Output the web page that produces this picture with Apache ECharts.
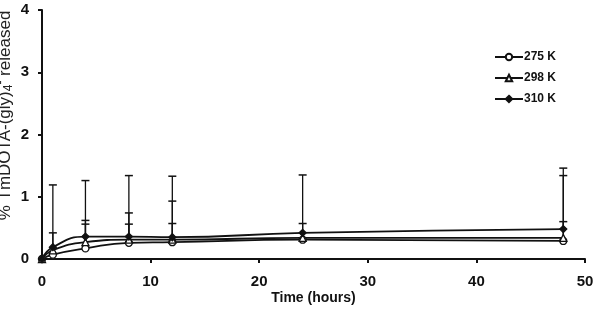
<!DOCTYPE html>
<html>
<head>
<meta charset="utf-8">
<script src="https://cdn.jsdelivr.net/npm/echarts@6/dist/echarts.min.js"></script>
<style>
  html, body { margin: 0; padding: 0; background: #fff; }
  #chart { width: 595px; height: 311px; }
</style>
</head>
<body>
<div id="chart"></div>
<script>
// 时间点 (hours)
var times = [0, 1, 4, 8, 12, 24, 48];
var seriesNames = ['275 K', '298 K', '310 K'];
// % released
var val275 = [0, 0.07, 0.17, 0.26, 0.27, 0.31, 0.29];
var val298 = [0, 0.14, 0.27, 0.31, 0.31, 0.34, 0.34];
var val310 = [0, 0.19, 0.36, 0.36, 0.35, 0.42, 0.48];
// 误差线上端 (absolute values, null = no bar)
var err275 = [null, null, 0.56, 0.56, 0.57, null, 0.6];
var err298 = [null, 0.42, 0.62, 0.74, 0.93, 0.57, 1.34];
var err310 = [null, 1.19, 1.26, 1.34, 1.33, 1.35, 1.46];
var yTicks = [0, 1, 2, 3, 4];
var xTicks = [0, 10, 20, 30, 40, 50];

function pairs(vals) {
    return times.map(function (t, i) { return [t, vals[i]]; });
}
function errPairs(vals, tops) {
    var out = [];
    times.forEach(function (t, i) {
        if (tops[i] != null) out.push([t, vals[i], tops[i]]);
    });
    return out;
}

var chart = echarts.init(document.getElementById('chart'));

function errorSeries(vals, tops) {
    return {
        type: 'custom',
        silent: true,
        z: 1,
        data: errPairs(vals, tops),
        renderItem: function (params, api) {
            var lo = api.coord([api.value(0), api.value(1)]);
            var hi = api.coord([api.value(0), api.value(2)]);
            var w = 4;
            return {
                type: 'group',
                children: [{
                    type: 'line',
                    shape: { x1: lo[0], y1: lo[1], x2: hi[0], y2: hi[1] },
                    style: { stroke: '#111', lineWidth: 1.3 }
                }, {
                    type: 'line',
                    shape: { x1: hi[0] - w, y1: hi[1], x2: hi[0] + w, y2: hi[1] },
                    style: { stroke: '#111', lineWidth: 1.5 }
                }]
            };
        }
    };
}

function lineSeries(name, vals, symbol, size, fill) {
    return {
        name: name,
        type: 'line',
        smooth: true,
        z: 3,
        data: pairs(vals),
        symbol: symbol,
        symbolSize: size,
        showAllSymbol: true,
        lineStyle: { color: '#111', width: 1.8 },
        itemStyle: { color: fill, borderColor: '#111', borderWidth: 1.3 }
    };
}

chart.setOption({
    animation: false,
    textStyle: { fontFamily: 'Liberation Sans, Arial, sans-serif' },
    grid: { left: 42, right: 10, top: 10, bottom: 52, outerBoundsMode: 'none', containLabel: false },
    legend: {
        orient: 'vertical',
        right: 34,
        top: 46,
        itemWidth: 28,
        itemHeight: 8,
        itemGap: 9,
        data: seriesNames,
        textStyle: { color: '#111', fontWeight: 'bold', fontSize: 12, padding: [0, 0, 0, -4] }
    },
    xAxis: {
        type: 'value',
        min: xTicks[0],
        max: xTicks[xTicks.length - 1],
        interval: 10,
        name: 'Time (hours)',
        nameLocation: 'middle',
        nameGap: 32,
        nameMoveOverlap: false,
        nameTextStyle: { color: '#111', fontWeight: 'bold', fontSize: 14 },
        axisLine: { lineStyle: { color: '#111', width: 2 } },
        axisTick: { inside: false, length: 4, lineStyle: { color: '#111', width: 2 } },
        axisLabel: { color: '#111', fontWeight: 'bold', fontSize: 15, margin: 15 },
        splitLine: { show: false }
    },
    yAxis: {
        type: 'value',
        min: yTicks[0],
        max: yTicks[yTicks.length - 1],
        interval: 1,
        name: '{a|% TmDOTA-(gly)}{sub|4}{sup|-}{a| released}',
        nameLocation: 'middle',
        nameGap: 27,
        nameMoveOverlap: false,
        nameTextStyle: {
            padding: [0, 0, 0, 38],
            rich: {
                a: { color: '#222', fontSize: 17, fontFamily: 'Liberation Sans, Arial, sans-serif' },
                sub: { color: '#222', fontSize: 12, verticalAlign: 'bottom', padding: [8, 0, 0, 0] },
                sup: { color: '#222', fontSize: 12, verticalAlign: 'top', padding: [0, 0, 6, 0] }
            }
        },
        axisLine: { show: true, lineStyle: { color: '#111', width: 2 } },
        axisTick: { show: true, length: 4, lineStyle: { color: '#111', width: 2 } },
        axisLabel: { color: '#111', fontWeight: 'bold', fontSize: 15, margin: 13 },
        splitLine: { show: false }
    },
    series: [
        errorSeries(val310, err310),
        errorSeries(val298, err298),
        errorSeries(val275, err275),
        lineSeries(seriesNames[0], val275, 'circle', 7, '#fff'),
        lineSeries(seriesNames[1], val298, 'triangle', 7, '#fff'),
        lineSeries(seriesNames[2], val310, 'diamond', 7, '#111')
    ]
});
</script>
</body>
</html>
